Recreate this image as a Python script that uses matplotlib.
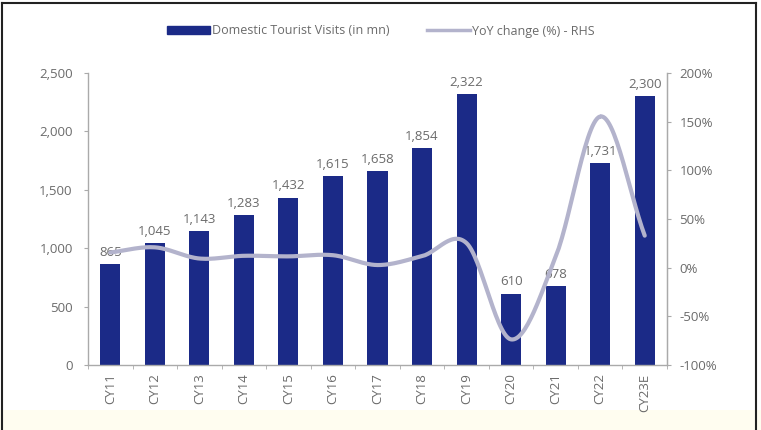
import numpy as np
import matplotlib
matplotlib.use("Agg")
import matplotlib.pyplot as plt
from matplotlib.lines import Line2D
from matplotlib.patches import Patch, Rectangle

categories = ["CY11", "CY12", "CY13", "CY14", "CY15", "CY16", "CY17",
              "CY18", "CY19", "CY20", "CY21", "CY22", "CY23E"]
visits = [865, 1045, 1143, 1283, 1432, 1615, 1658, 1854, 2322, 610, 678, 1731, 2300]
yoy = [15.6, 20.9, 9.4, 12.2, 11.6, 12.8, 2.7, 11.8, 25.2, -73.7, 11.1, 155.3, 32.9]
left_ticks = [0, 500, 1000, 1500, 2000, 2500]
right_ticks = [-100, -50, 0, 50, 100, 150, 200]

plt.rcParams['font.family'] = ['Open Sans', 'DejaVu Sans']
TXT = '#6b6b6b'
BAR = '#1b2a87'
LINE = '#b3b3cc'

fig = plt.figure(figsize=(7.61, 4.30), dpi=100)
# pale strip at the bottom
fig.add_artist(Rectangle((0, 0), 1, 20/430, transform=fig.transFigure,
                         facecolor='#fffdf0', edgecolor='none', zorder=0))
# frame lines
for coords in [([2/761, 2/761], [0, 1-3/430]), ([756/761, 756/761], [0, 1-3/430]),
               ([2/761, 756/761], [1-3/430, 1-3/430])]:
    fig.add_artist(Line2D(coords[0], coords[1], transform=fig.transFigure,
                          color='#222222', lw=1.5))

ax = fig.add_axes([88/761, 1-365/430, (667-88)/761, (365-73)/430])
x = np.arange(len(categories))
ax.bar(x, visits, width=0.45, color=BAR, zorder=2)
for xi, v in zip(x, visits):
    ax.text(xi, v + 45, f"{v:,}", ha='center', va='bottom', fontsize=9.5, color=TXT, zorder=5)

ax.set_xlim(-0.5, len(categories) - 0.5)
ax.set_ylim(0, 2500)
ax.set_yticks(left_ticks)
ax.set_yticklabels([f"{t:,}" for t in left_ticks])
ax.set_xticks(x)
ax.set_xticklabels(categories, rotation=90)
ax.set_xticks(np.arange(len(categories) + 1) - 0.5, minor=True)
ax.tick_params(axis='x', which='major', length=0, pad=6, labelsize=9.5, labelcolor=TXT)
ax.tick_params(axis='x', which='minor', length=3, color='#aaaaaa', direction='out')
ax.tick_params(axis='y', length=3, color='#aaaaaa', labelsize=9.5, labelcolor=TXT, pad=8)
for s in ['top']:
    ax.spines[s].set_visible(False)
for s in ['left', 'bottom', 'right']:
    ax.spines[s].set_color('#aaaaaa')
    ax.spines[s].set_linewidth(1)

ax2 = ax.twinx()
# Catmull-Rom smoothing for drawing the line
pts = np.column_stack([x, yoy]).astype(float)
P = np.vstack([pts[0] - (pts[1] - pts[0]), pts, pts[-1] + (pts[-1] - pts[-2])])
sx, sy = [], []
t = np.linspace(0, 1, 30)
for i in range(1, len(P) - 2):
    p0, p1, p2, p3 = P[i-1], P[i], P[i+1], P[i+2]
    tt = t[:, None]
    seg = 0.5 * ((2*p1) + (-p0 + p2)*tt + (2*p0 - 5*p1 + 4*p2 - p3)*tt**2 + (-p0 + 3*p1 - 3*p2 + p3)*tt**3)
    sx.extend(seg[:, 0]); sy.extend(seg[:, 1])
ax2.plot(sx, sy, color=LINE, lw=3, solid_capstyle='round', zorder=3)
ax2.set_ylim(-100, 200)
ax2.set_yticks(right_ticks)
ax2.set_yticklabels([f"{t}%" for t in right_ticks])
ax2.tick_params(axis='y', length=3, color='#aaaaaa', labelsize=9.5, labelcolor=TXT, pad=6)
for s in ['top', 'left', 'bottom']:
    ax2.spines[s].set_visible(False)
ax2.spines['right'].set_color('#aaaaaa')

handles = [Patch(facecolor=BAR, edgecolor=BAR),
           Line2D([0], [0], color=LINE, lw=2.5)]
fig.legend(handles, ["Domestic Tourist Visits (in mn)", "YoY change (%) - RHS"],
           loc='center', bbox_to_anchor=(0.5, 1-31/430), ncol=2, frameon=False,
           fontsize=9, labelcolor=TXT, handlelength=3.5, handletextpad=0.1,
           columnspacing=3.0, handleheight=0.6)

fig.savefig("out.png", dpi=100)
